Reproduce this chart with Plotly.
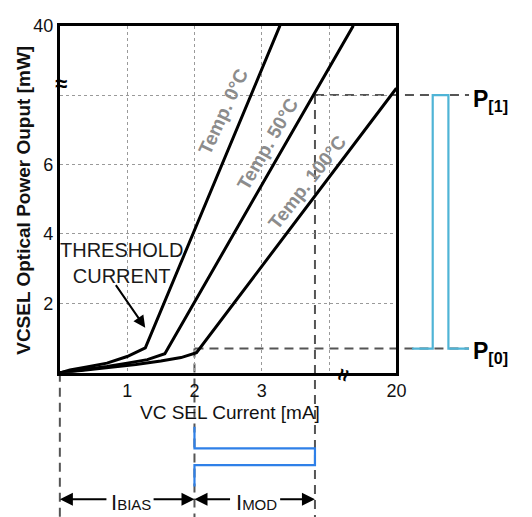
import plotly.graph_objects as go

# ---------------- data ----------------
temp0_current = [0, 0.15, 0.4, 0.7, 1.0, 1.27, 3.27]
temp0_power = [0, 0.08, 0.17, 0.28, 0.47, 0.72, 10]

temp50_current = [0, 0.4, 0.7, 1.0, 1.3, 1.56, 4.36]
temp50_power = [0, 0.10, 0.18, 0.28, 0.38, 0.55, 10]

temp100_current = [0, 0.7, 1.13, 1.5, 1.8, 2.03, 5.0]
temp100_power = [0, 0.14, 0.24, 0.34, 0.44, 0.58, 8.2]

x_tickvals = [0, 1, 2, 3, 4, 5]
x_ticktext = ["", "1", "2", "3", "", "20"]
y_tickvals = [0, 2, 4, 6, 8, 10]
y_ticktext = ["", "2", "4", "6", "", "40"]

I_BIAS = 2.0      # bias current (mA)
I_HIGH = 3.79     # current giving P[1]
P_LOW = 0.7       # P[0]
P_HIGH = 8.0      # P[1]

# ---------------- layout geometry (pixels) ----------------
W, H = 532, 517
PX_L, PX_R, PX_T, PX_B = 61, 404, 16, 370
XS = (PX_R - PX_L) / 5.0
YS = (PX_B - PX_T) / 10.0


def xd(px):
    return (px - PX_L) / XS


def yd(py):
    return (PX_B - py) / YS


def xp(px):
    return px / W


def yp(py):
    return 1 - py / H


FONT = "Liberation Sans, Arial, sans-serif"
DASH_COL = "#555555"
PULSE_COL = "#4fb4d6"
CUR_COL = "#2f80e8"

fig = go.Figure()

# ---------- overlay (full-figure) decorations on xaxis/yaxis ----------
dash_kw = dict(mode="lines", line=dict(color=DASH_COL, width=2, dash="9px,6px"),
               xaxis="x", yaxis="y", hoverinfo="skip", showlegend=False)
fig.add_trace(go.Scatter(x=[I_HIGH, xd(478)], y=[P_HIGH, P_HIGH], **dash_kw))
fig.add_trace(go.Scatter(x=[I_BIAS, xd(478)], y=[P_LOW, P_LOW], **dash_kw))
fig.add_trace(go.Scatter(x=[0, 0], y=[0, yd(H)], **dash_kw))
fig.add_trace(go.Scatter(x=[I_BIAS, I_BIAS], y=[P_LOW, yd(H)], **dash_kw))
fig.add_trace(go.Scatter(x=[I_HIGH, I_HIGH], y=[P_HIGH, yd(H)], **dash_kw))

# optical output pulse
fig.add_trace(go.Scatter(
    x=[xd(420), xd(441), xd(441), xd(457), xd(457), xd(478)],
    y=[P_LOW, P_LOW, P_HIGH, P_HIGH, P_LOW, P_LOW],
    mode="lines", line=dict(color=PULSE_COL, width=2.2),
    xaxis="x", yaxis="y", hoverinfo="skip", showlegend=False))

# current pulse
fig.add_trace(go.Scatter(
    x=[I_BIAS, I_BIAS, I_HIGH, I_HIGH, I_BIAS, I_BIAS],
    y=[yd(425), yd(447), yd(447), yd(464), yd(464), yd(486)],
    mode="lines", line=dict(color=CUR_COL, width=2.2),
    xaxis="x", yaxis="y", hoverinfo="skip", showlegend=False))

# ---------- main L-I curves on xaxis2/yaxis2 ----------
for cx, cy in [(temp0_current, temp0_power),
               (temp50_current, temp50_power),
               (temp100_current, temp100_power)]:
    fig.add_trace(go.Scatter(x=cx, y=cy, mode="lines",
                             line=dict(color="black", width=3),
                             xaxis="x2", yaxis="y2",
                             hoverinfo="skip", showlegend=False))

annotations = []

TEMP_COL = "#8c8c8c"
for txt, cx, cy, ang in [("Temp. 0°C", 228, 104, -65),
                         ("Temp. 50°C", 273, 136, -60),
                         ("Temp. 100°C", 313, 176, -52)]:
    annotations.append(dict(text="<b>%s</b>" % txt, x=xp(cx), y=yp(cy),
                            xref="paper", yref="paper", showarrow=False,
                            textangle=ang, xanchor="center", yanchor="middle",
                            font=dict(family=FONT, size=19, color=TEMP_COL)))

annotations.append(dict(text="THRESHOLD<br>CURRENT", x=xp(124), y=yp(258),
                        xref="paper", yref="paper", showarrow=False,
                        xanchor="center", yanchor="middle",
                        font=dict(family=FONT, size=20, color="#1a1a1a")))
annotations.append(dict(text="", x=xd(148), y=yd(324), ax=xd(117), ay=yd(279),
                        xref="x", yref="y", axref="x", ayref="y",
                        showarrow=True, arrowhead=2, arrowsize=1.2,
                        arrowwidth=2, arrowcolor="black"))

annotations.append(dict(text="VC SEL Current [mA]", x=xp(234), y=yp(410),
                        xref="paper", yref="paper", showarrow=False,
                        xanchor="center", yanchor="middle",
                        font=dict(family=FONT, size=19, color="#111111")))
annotations.append(dict(text="<b>VCSEL Optical Power Ouput [mW]</b>",
                        x=xp(24), y=yp(194), xref="paper", yref="paper",
                        showarrow=False, textangle=-90,
                        xanchor="center", yanchor="middle",
                        font=dict(family=FONT, size=19, color="#111111")))

annotations.append(dict(text="<b>≈</b>", x=xp(62), y=yp(75), xref="paper",
                        yref="paper", showarrow=False, xanchor="center",
                        yanchor="middle",
                        font=dict(family=FONT, size=22, color="black")))
annotations.append(dict(text="<b>≈</b>", x=xp(350), y=yp(372), xref="paper",
                        yref="paper", showarrow=False, textangle=-75,
                        xanchor="center", yanchor="middle",
                        font=dict(family=FONT, size=22, color="black")))

for txt, py in [("P<sub>[1]</sub>", 92), ("P<sub>[0]</sub>", 349)]:
    annotations.append(dict(text="<b>%s</b>" % txt, x=xp(480), y=yp(py),
                            xref="paper", yref="paper", showarrow=False,
                            xanchor="left", yanchor="middle",
                            font=dict(family=FONT, size=23, color="black")))

ARR_Y = yd(499)
for head, tail in [(0, xd(110)), (I_BIAS, xd(155)),
                   (I_BIAS, xd(236)), (I_HIGH, xd(284))]:
    annotations.append(dict(text="", x=head, y=ARR_Y, ax=tail, ay=ARR_Y,
                            xref="x", yref="y", axref="x", ayref="y",
                            showarrow=True, arrowhead=2, arrowsize=1.3,
                            arrowwidth=2, arrowcolor="black"))
for txt, cx in [("BIAS", 133), ("MOD", 261)]:
    annotations.append(dict(
        text="I<span style='font-size:15px'>%s</span>" % txt,
        x=xp(cx), y=yp(502), xref="paper", yref="paper", showarrow=False,
        xanchor="center", yanchor="middle",
        font=dict(family=FONT, size=22, color="#111111")))

fig.update_layout(
    width=W, height=H,
    margin=dict(l=0, r=0, t=0, b=0),
    paper_bgcolor="white",
    plot_bgcolor="rgba(0,0,0,0)",
    showlegend=False,
    annotations=annotations,
    xaxis=dict(domain=[0, 1], range=[xd(0), xd(W)], visible=False,
               fixedrange=True),
    yaxis=dict(domain=[0, 1], range=[yd(H), yd(0)], visible=False,
               fixedrange=True),
    xaxis2=dict(domain=[PX_L / W, PX_R / W], anchor="y2", range=[0, 5],
                tickvals=x_tickvals, ticktext=x_ticktext, ticks="",
                showline=True, mirror=True, linewidth=3, linecolor="black",
                showgrid=True, gridcolor="#9a9a9a", griddash="dot",
                gridwidth=1, zeroline=False,
                tickfont=dict(family=FONT, size=18, color="#111111")),
    yaxis2=dict(domain=[1 - PX_B / H, 1 - PX_T / H], anchor="x2",
                range=[0, 10],
                tickvals=y_tickvals, ticktext=y_ticktext, ticks="",
                showline=True, mirror=True, linewidth=3, linecolor="black",
                showgrid=True, gridcolor="#9a9a9a", griddash="dot",
                gridwidth=1, zeroline=False,
                tickfont=dict(family=FONT, size=18, color="#111111")),
)

POST = (
    "document.body.style.margin='0';document.body.style.padding='0';"
    "document.body.style.overflow='hidden';"
)

fig.write_html("out.html", post_script=POST,
               config={"displayModeBar": False})
